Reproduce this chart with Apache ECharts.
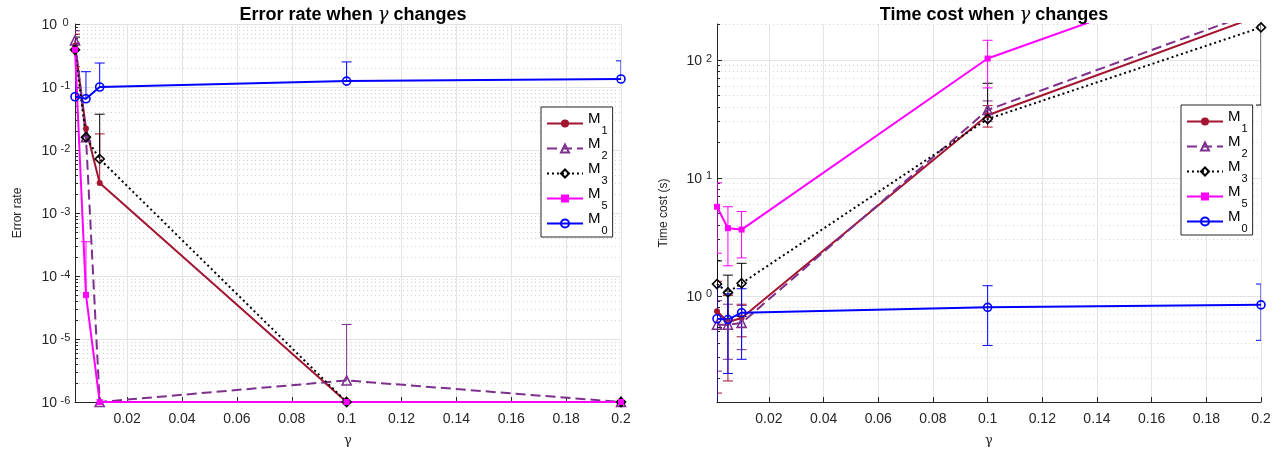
<!DOCTYPE html>
<html><head><meta charset="utf-8">
<script src="https://cdn.jsdelivr.net/npm/echarts@6/dist/echarts.min.js"></script>
<style>html,body{margin:0;padding:0;background:#fff}#c{width:1285px;height:451px}</style>
</head><body><div id="c"></div>
<script>
// ---------- data ----------
const gammas = [0.001, 0.005, 0.01, 0.1, 0.2];
const seriesNames = ['M1', 'M2', 'M3', 'M5', 'M0'];
const xTicks = [0.02, 0.04, 0.06, 0.08, 0.1, 0.12, 0.14, 0.16, 0.18, 0.2];
const xTickLabels = ['0.02', '0.04', '0.06', '0.08', '0.1', '0.12', '0.14', '0.16', '0.18', '0.2'];
const errTicks = [1e-6, 1e-5, 1e-4, 1e-3, 1e-2, 1e-1, 1];
const errTickExp = ['-6', '-5', '-4', '-3', '-2', '-1', '0'];
const timeTicks = [1, 10, 100];
const timeTickExp = ['0', '1', '2'];
const minorMult = [2, 3, 4, 5, 6, 7, 8, 9];

// Error rate (left)
const errM1 = [0.45, 0.022, 0.003, 1e-6, 1e-6];
const errM2 = [0.55, 0.016, 1e-6, 2.2e-6, 1e-6];
const errM3 = [0.39, 0.016, 0.0072, 1e-6, 1e-6];
const errM5 = [0.39, 5e-5, 1e-6, 1e-6, 1e-6];
const errM0 = [0.07, 0.065, 0.10, 0.124, 0.134];
const errM1Low = [0.21, null, null, null, null];
const errM1High = [0.69, null, 0.018, null, null];
const errM2Low = [0.096, null, null, null, null];
const errM2High = [0.78, null, null, 1.7e-5, null];
const errM3Low = [null, null, null, null, null];
const errM3High = [0.62, null, 0.037, null, null];
const errM5Low = [null, null, null, null, null];
const errM5High = [0.5, 3.5e-4, null, null, null];
const errM0Low = [null, null, null, null, null];
const errM0High = [0.175, 0.175, 0.24, 0.25, 0.26];

// Time cost (right)
const timeM1 = [0.74, 0.60, 0.65, 34, 240];
const timeM2 = [0.57, 0.57, 0.59, 37.7, 265];
const timeM3 = [1.26, 1.07, 1.28, 31.6, 189];
const timeM5 = [5.7, 3.75, 3.65, 103, 690];
const timeM0 = [0.64, 0.63, 0.72, 0.80, 0.84];
const timeM1Low = [0.15, 0.19, 0.45, 27, null];
const timeM1High = [1.33, 1.01, 0.85, 41, null];
const timeM2Low = [0.23, 0.29, 0.35, 30, null];
const timeM2High = [0.91, 0.85, 0.83, 45, null];
const timeM3Low = [0.54, 0.64, 0.67, null, 41.5];
const timeM3High = [1.98, 1.5, 1.89, 63.5, 337];
const timeM5Low = [2.3, 1.8, 2.1, 58, null];
const timeM5High = [9.1, 5.7, 5.2, 147, null];
const timeM0Low = [0.09, 0.22, 0.29, 0.38, 0.42];
const timeM0High = [1.19, 1.04, 1.15, 1.22, 1.26];

// ---------- styling ----------
const FONT = '"Liberation Sans", Arial, Helvetica, sans-serif';
const AX = '#262626';
const GRIDC = '#e3e3e3';
const MINORC = '#d2d2d2';
const styles = {
  M1: {color: '#A2142F', type: 'solid', symbol: 'circle', size: 6, fill: '#A2142F'},
  M2: {color: '#7E2F8E', type: [10, 5], symbol: 'triangle', size: 9, fill: 'rgba(255,255,255,0)'},
  M3: {color: '#000000', type: [2, 3], symbol: 'diamond', size: 9, fill: 'rgba(255,255,255,0)'},
  M5: {color: '#FF00FF', type: 'solid', symbol: 'rect', size: 6, fill: '#FF00FF'},
  M0: {color: '#0000FF', type: 'solid', symbol: 'circle', size: 8, fill: 'rgba(255,255,255,0)'}
};

function minorValues(lo, hi) {
  const out = [];
  for (let e = Math.floor(Math.log10(lo)); e <= Math.ceil(Math.log10(hi)); e++) {
    minorMult.forEach(m => { const v = m * Math.pow(10, e); if (v > lo && v < hi) out.push(v); });
  }
  return out;
}

function xAxisCfg(grid) {
  return {
    type: 'value', gridIndex: grid, min: 0.001, max: 0.2,
    name: 'γ', nameLocation: 'middle', nameGap: 32,
    nameTextStyle: {fontSize: 13, color: AX, fontFamily: '"DejaVu Serif", serif'},
    axisLine: {show: true, onZero: false, lineStyle: {color: AX, width: 1}},
    axisTick: {show: true, inside: true, length: 5, customValues: xTicks, lineStyle: {color: AX}},
    axisLabel: {customValues: xTicks, fontSize: 14, color: AX, margin: 10, fontFamily: FONT,
      formatter: v => { let b = 0; xTicks.forEach((t, i) => { if (Math.abs(t - v) < Math.abs(xTicks[b] - v)) b = i; }); return xTickLabels[b]; }},
    splitLine: {show: true, lineStyle: {color: GRIDC, width: 1}}
  };
}

function yMainCfg(grid, min, max, ticks, exps, name, nameGap, supW) {
  return {
    type: 'log', logBase: 10, gridIndex: grid, min, max, position: 'left',
    name, nameLocation: 'middle', nameGap, nameRotate: 90,
    nameTextStyle: {fontSize: 12, color: AX, fontFamily: FONT},
    axisLine: {show: true, onZero: false, lineStyle: {color: AX, width: 1}},
    axisTick: {show: true, inside: true, length: 5, customValues: ticks, lineStyle: {color: AX}},
    axisLabel: {customValues: ticks, margin: 2, fontFamily: FONT, color: AX,
      formatter: v => { let b = 0; ticks.forEach((t, i) => { if (Math.abs(Math.log10(t) - Math.log10(v)) < Math.abs(Math.log10(ticks[b]) - Math.log10(v))) b = i; }); return '{b|10}{e|' + exps[b] + '}'; },
      rich: {
        b: {fontSize: 14, color: AX, fontFamily: FONT, lineHeight: 16, verticalAlign: 'bottom', padding: [6, 0, 0, 0]},
        e: {fontSize: 11, color: AX, fontFamily: FONT, lineHeight: 12, verticalAlign: 'top', width: supW, align: 'left', padding: [1, 0, 0, 1]}
      }},
    splitLine: {show: true, lineStyle: {color: GRIDC, width: 1}}
  };
}

function yMinorCfg(grid, min, max) {
  const mv = minorValues(min, max);
  return {
    type: 'log', logBase: 10, gridIndex: grid, min, max, position: 'left', offset: 0,
    axisLine: {show: false},
    axisLabel: {show: false},
    axisTick: {show: true, inside: true, length: 3, customValues: mv, lineStyle: {color: AX}},
    splitLine: {show: true, lineStyle: {color: MINORC, width: 1, type: [1, 3]}}
  };
}

function lineSeries(name, xi, yi, vals) {
  const s = styles[name];
  return {
    type: 'line', name, xAxisIndex: xi, yAxisIndex: yi,
    data: gammas.map((g, i) => [g, vals[i]]),
    symbol: s.symbol, symbolSize: s.size, showSymbol: true, clip: true,
    lineStyle: {color: s.color, width: 2, type: s.type},
    itemStyle: {color: s.fill, borderColor: s.color, borderWidth: (s.fill === s.color ? 0 : 1.6)},
    emphasis: {disabled: true}, animation: false
  };
}

function errSeries(name, xi, yi, vals, lows, highs) {
  const color = styles[name].color;
  const data = [];
  gammas.forEach((g, i) => {
    if (lows[i] == null && highs[i] == null) return;
    data.push([g, vals[i], lows[i] == null ? vals[i] : lows[i], highs[i] == null ? vals[i] : highs[i], lows[i] == null ? 0 : 1, highs[i] == null ? 0 : 1]);
  });
  return {
    type: 'custom', name: name + ' err', xAxisIndex: xi, yAxisIndex: yi, clip: true, silent: true,
    data, encode: {x: 0, y: 1}, animation: false,
    renderItem: (params, api) => {
      const x = api.value(0);
      const lo = api.coord([x, api.value(2)]);
      const hi = api.coord([x, api.value(3)]);
      const st = {stroke: color, lineWidth: 1};
      const ch = [{type: 'line', shape: {x1: lo[0], y1: lo[1], x2: hi[0], y2: hi[1]}, style: st}];
      if (api.value(4)) ch.push({type: 'line', shape: {x1: lo[0] - 5, y1: lo[1], x2: lo[0] + 5, y2: lo[1]}, style: st});
      if (api.value(5)) ch.push({type: 'line', shape: {x1: hi[0] - 5, y1: hi[1], x2: hi[0] + 5, y2: hi[1]}, style: st});
      return {type: 'group', children: ch};
    }
  };
}

function legendCfg(left, top) {
  return {
    left, top, orient: 'vertical', data: seriesNames, itemWidth: 36, itemHeight: 10, itemGap: 0,
    padding: [4, 5, 1, 5], borderColor: AX, borderWidth: 1, backgroundColor: '#fff', borderRadius: 0,
    selectedMode: false,
    formatter: n => '{m|M}{s|' + n.slice(1) + '}',
    textStyle: {color: '#000', fontFamily: FONT,
      rich: {m: {fontSize: 15, lineHeight: 16, verticalAlign: 'top', fontFamily: FONT},
             s: {fontSize: 11, lineHeight: 25, verticalAlign: 'bottom', fontFamily: FONT, padding: [0, 0, 0, 1]}}}
  };
}

function titleCfg(text, left) {
  return {
    text: '{a|' + text + ' when }{g|γ}{a| changes}', left, top: 1, textAlign: 'center',
    textStyle: {rich: {
      a: {fontSize: 18, fontWeight: 'bold', color: '#000', fontFamily: FONT},
      g: {fontSize: 18, fontWeight: 'normal', fontStyle: 'italic', color: '#000', fontFamily: '"DejaVu Serif", serif'}
    }}
  };
}

const errSets = {M1: [errM1, errM1Low, errM1High], M2: [errM2, errM2Low, errM2High], M3: [errM3, errM3Low, errM3High], M5: [errM5, errM5Low, errM5High], M0: [errM0, errM0Low, errM0High]};
const timeSets = {M1: [timeM1, timeM1Low, timeM1High], M2: [timeM2, timeM2Low, timeM2High], M3: [timeM3, timeM3Low, timeM3High], M5: [timeM5, timeM5Low, timeM5High], M0: [timeM0, timeM0Low, timeM0High]};

const series = [];
seriesNames.forEach(n => {
  const d = errSets[n];
  series.push(errSeries(n, 0, 0, d[0], d[1], d[2]));
  series.push(lineSeries(n, 0, 0, d[0]));
});
seriesNames.forEach(n => {
  const d = timeSets[n];
  series.push(errSeries(n, 1, 2, d[0], d[1], d[2]));
  series.push(lineSeries(n, 1, 2, d[0]));
});

const option = {
  backgroundColor: '#fff',
  animation: false,
  title: [titleCfg('Error rate', 348), titleCfg('Time cost', 989)],
  legend: [legendCfg(541, 107), legendCfg(1181, 105)],
  grid: [
    {left: 75, top: 24, width: 546, height: 378, containLabel: false, outerBoundsMode: 'none'},
    {left: 717, top: 24, width: 544, height: 378, containLabel: false, outerBoundsMode: 'none'}
  ],
  xAxis: [xAxisCfg(0), xAxisCfg(1)],
  yAxis: [
    yMainCfg(0, 1e-6, 1, errTicks, errTickExp, 'Error rate', 51, 15),
    yMinorCfg(0, 1e-6, 1),
    yMainCfg(1, 0.126, 202, timeTicks, timeTickExp, 'Time cost (s)', 47, 12),
    yMinorCfg(1, 0.126, 202)
  ],
  series
};

const chart = echarts.init(document.getElementById('c'), null, {renderer: 'canvas'});
chart.setOption(option);
</script>
</body></html>
